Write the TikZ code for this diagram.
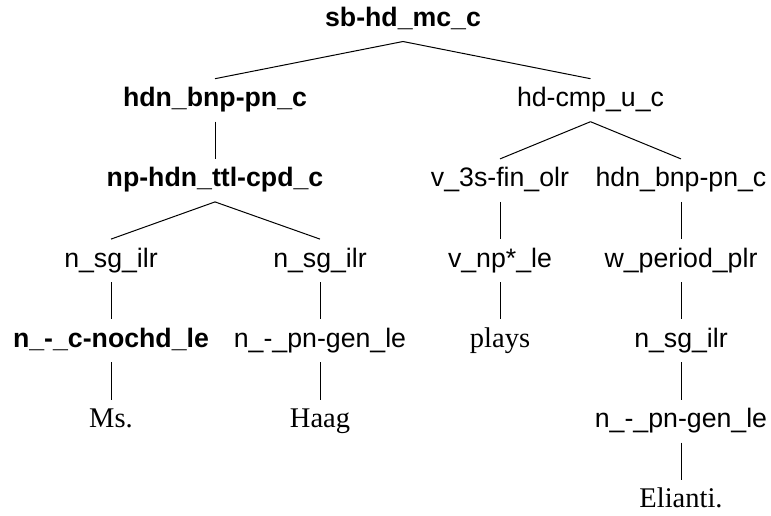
\documentclass[tikz,border=0pt]{standalone}
\usepackage{fontspec}
\setmainfont{Liberation Sans}
\newfontfamily\wordfont{Liberation Serif}
\usepackage{tikz}
\tikzstyle{rulename} = [rectangle, inner xsep=0pt, inner ysep=9pt, outer sep=0pt, text height=19pt, text depth=6pt, font=\fontsize{26.7}{30}\selectfont]
\tikzstyle{headrule} = [rulename, font=\fontsize{26.7}{30}\selectfont\bfseries]
\tikzstyle{token} = [rulename, font=\fontsize{28.5}{32}\selectfont\wordfont]
\tikzstyle{branch} = [line width=1pt]

\begin{document}
\begin{tikzpicture}[node distance=80.2pt]
\useasboundingbox (0,0) rectangle (771pt,-515pt);
\node (root) [headrule] at (403pt,-20pt) {sb-hd\_mc\_c};
\node (subj) [headrule, below of=root, xshift=-188pt] {hdn\_bnp-pn\_c};
\node (vp) [rulename, below of=root, xshift=187.5pt] {hd-cmp\_u\_c};
\node (ttl) [headrule, below of=subj] {np-hdn\_ttl-cpd\_c};
\node (sga) [rulename, below of=ttl, xshift=-104pt] {n\_sg\_ilr};
\node (sgb) [rulename, below of=ttl, xshift=105pt] {n\_sg\_ilr};
\node (nochd) [headrule, below of=sga] {n\_-\_c-nochd\_le};
\node (gena) [rulename, below of=sgb] {n\_-\_pn-gen\_le};
\node (ms) [token, below of=nochd] {Ms.};
\node (haag) [token, below of=gena] {Haag};
\node (fin) [rulename, below of=vp, xshift=-90.5pt] {v\_3s-fin\_olr};
\node (obj) [rulename, below of=vp, xshift=90.5pt] {hdn\_bnp-pn\_c};
\node (vle) [rulename, below of=fin] {v\_np*\_le};
\node (plays) [token, below of=vle] {plays};
\node (period) [rulename, below of=obj] {w\_period\_plr};
\node (sgc) [rulename, below of=period] {n\_sg\_ilr};
\node (genb) [rulename, below of=sgc] {n\_-\_pn-gen\_le};
\node (elianti) [token, below of=genb] {Elianti.};
\draw [branch] (root.south) -- (subj.north);
\draw [branch] (root.south) -- (vp.north);
\draw [branch] (subj.south) -- (ttl.north);
\draw [branch] (ttl.south) -- (sga.north);
\draw [branch] (ttl.south) -- (sgb.north);
\draw [branch] (sga.south) -- (nochd.north);
\draw [branch] (sgb.south) -- (gena.north);
\draw [branch] (nochd.south) -- (ms.north);
\draw [branch] (gena.south) -- (haag.north);
\draw [branch] (vp.south) -- (fin.north);
\draw [branch] (vp.south) -- (obj.north);
\draw [branch] (fin.south) -- (vle.north);
\draw [branch] (vle.south) -- (plays.north);
\draw [branch] (obj.south) -- (period.north);
\draw [branch] (period.south) -- (sgc.north);
\draw [branch] (sgc.south) -- (genb.north);
\draw [branch] (genb.south) -- (elianti.north);
\end{tikzpicture}
\end{document}
